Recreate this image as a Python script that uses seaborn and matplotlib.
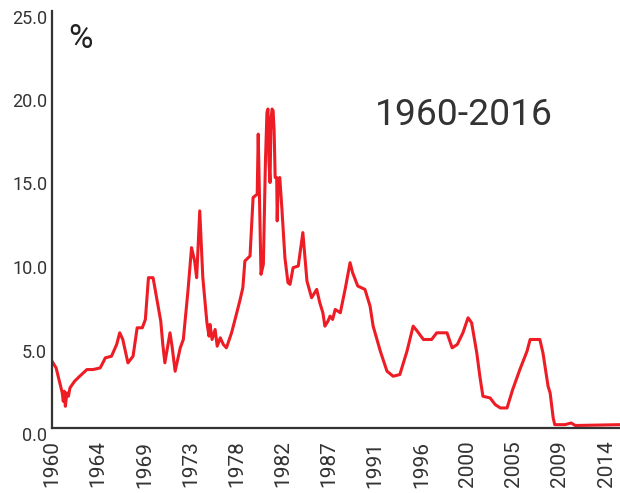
import matplotlib
matplotlib.use("Agg")
import matplotlib.pyplot as plt
import matplotlib.transforms as mtransforms
import seaborn as sns
import pandas as pd

# Effective federal funds rate (%)
years = [1960.0, 1960.4, 1960.8, 1961.0, 1961.1, 1961.2, 1961.3, 1961.45, 1961.6, 1961.75,
         1962.2, 1962.7, 1963.4, 1964.0, 1964.7, 1965.2, 1965.8, 1966.3, 1966.6, 1966.9,
         1967.4, 1967.9, 1968.3, 1968.8, 1969.1, 1969.4, 1969.85, 1970.2, 1970.6, 1970.8,
         1971.0, 1971.3, 1971.5, 1971.7, 1972.0, 1972.5, 1972.8, 1973.25, 1973.6, 1973.9,
         1974.1, 1974.4, 1974.7, 1975.1, 1975.3, 1975.4, 1975.6, 1975.9, 1976.1, 1976.4,
         1976.7, 1977.0, 1977.5, 1977.8, 1978.3, 1978.6, 1978.8, 1979.3, 1979.6, 1980.0,
         1980.1, 1980.25, 1980.37, 1980.6, 1980.8, 1980.95, 1981.05, 1981.15, 1981.25, 1981.35,
         1981.45, 1981.55, 1981.65, 1981.75, 1981.9, 1981.95, 1982.05, 1982.2, 1982.4, 1982.7,
         1983.0, 1983.2, 1983.5, 1984.0, 1984.45, 1984.85, 1985.3, 1985.8, 1986.1, 1986.4,
         1986.6, 1986.9, 1987.1, 1987.35, 1987.6, 1988.1, 1988.6, 1989.05, 1989.3, 1989.8,
         1990.5, 1991.0, 1991.3, 1992.0, 1992.65, 1993.25, 1993.9, 1994.6, 1995.2, 1995.6,
         1996.2, 1997.0, 1997.5, 1998.5, 1999.0, 1999.5, 2000.05, 2000.55, 2000.9, 2001.4,
         2001.7, 2002.0, 2002.7, 2003.2, 2003.7, 2004.35, 2004.9, 2005.6, 2006.3, 2006.6,
         2007.55, 2007.85, 2008.35, 2008.55, 2008.85, 2009.0, 2010.0, 2010.6, 2011.0, 2015.35]
rates = [4.0, 3.6, 2.6, 2.1, 1.6, 2.2, 1.3, 2.1, 1.9, 2.4,
         2.8, 3.1, 3.5, 3.5, 3.6, 4.2, 4.3, 5.0, 5.7, 5.3,
         3.9, 4.3, 6.0, 6.0, 6.5, 9.0, 9.0, 7.8, 6.4, 5.0,
         3.9, 5.0, 5.7, 4.9, 3.4, 4.8, 5.3, 8.2, 10.8, 10.0,
         9.0, 13.0, 9.0, 6.3, 5.5, 6.2, 5.3, 5.9, 4.9, 5.4,
         5.0, 4.8, 5.7, 6.4, 7.6, 8.4, 10.0, 10.3, 13.8, 14.0,
         17.6, 13.0, 9.2, 9.8, 15.9, 18.9, 19.1, 15.9, 14.7, 18.5,
         19.1, 19.0, 17.8, 15.0, 15.0, 12.4, 14.9, 15.0, 13.2, 10.2,
         8.7, 8.6, 9.6, 9.7, 11.7, 8.8, 7.8, 8.3, 7.5, 6.9,
         6.1, 6.4, 6.7, 6.5, 7.1, 6.9, 8.4, 9.9, 9.3, 8.5,
         8.3, 7.3, 6.1, 4.6, 3.4, 3.1, 3.2, 4.6, 6.1, 5.8,
         5.3, 5.3, 5.7, 5.7, 4.8, 5.0, 5.7, 6.6, 6.3, 4.5,
         3.1, 1.9, 1.8, 1.4, 1.2, 1.2, 2.3, 3.5, 4.6, 5.3,
         5.3, 4.5, 2.5, 2.1, 0.6, 0.2, 0.2, 0.3, 0.15, 0.2]

x_tick_labels = ["1960", "1964", "1969", "1973", "1978", "1982", "1987",
                 "1991", "1996", "2000", "2005", "2009", "2014"]
y_ticks = [0.0, 5.0, 10.0, 15.0, 20.0, 25.0]

df = pd.DataFrame({"year": years, "rate": rates})

sns.set_style("white")
plt.rcParams["font.family"] = ["Roboto", "DejaVu Sans"]

fig = plt.figure(figsize=(6.2, 4.93), dpi=100)
ax = fig.add_axes([52 / 620, (493 - 428) / 493, 568 / 620, (428 - 10.5) / 493])

sns.lineplot(data=df, x="year", y="rate", ax=ax, color="#ee1c24", linewidth=2.2)

ax.set_xlim(1960, 1960 + 568 / 10.26)
ax.set_ylim(0, 25)

tick_pos = [1960 + 4.5 * i for i in range(len(x_tick_labels))]
ax.set_xticks(tick_pos)
ax.set_xticklabels(x_tick_labels, rotation=90, fontsize=15, color="#333333")
ax.set_yticks(y_ticks)
ax.set_yticklabels([f"{v:.1f}" for v in y_ticks], fontsize=13, color="#333333")

ax.set_xlabel("")
ax.set_ylabel("")

for s in ["top", "right"]:
    ax.spines[s].set_visible(False)
for s in ["left", "bottom"]:
    ax.spines[s].set_color("#333333")
    ax.spines[s].set_linewidth(1.6)

ax.tick_params(axis="x", direction="inout", length=10, width=2.6, color="#222222", pad=4)
ax.tick_params(axis="y", direction="out", length=7, width=1.2, color="#333333", pad=-3.5)
ticks = ax.xaxis.get_major_ticks()
ticks[-1].tick1line.set_markeredgewidth(1.2)

offset = mtransforms.ScaledTranslation(0, -6 / 100, fig.dpi_scale_trans)
for lbl in ax.get_yticklabels():
    lbl.set_transform(lbl.get_transform() + offset)

fig.text(68 / 620, 1 - 48 / 493, "%", fontsize=24, color="#222222", va="baseline", ha="left")
fig.text(375 / 620, 1 - 125 / 493, "1960-2016", fontsize=26.8, color="#333333", va="baseline", ha="left")

fig.savefig("out.png", dpi=100)
